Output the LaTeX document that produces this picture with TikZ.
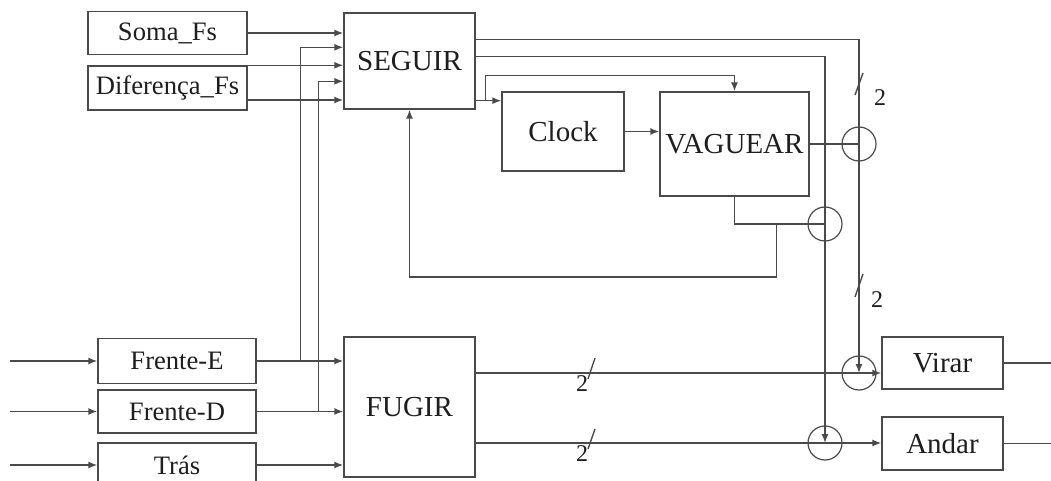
\documentclass[tikz,border=0pt]{standalone}
\usepackage{fontspec}
\setmainfont{Liberation Serif}
\usepackage{xcolor}
\definecolor{wire}{HTML}{4A4A4A}
\definecolor{ink}{HTML}{1E1E1E}
\usepackage{tikz}
\usetikzlibrary{arrows.meta,calc}

\begin{document}
\begin{tikzpicture}[x=0.5pt, y=-0.5pt,
    font=\fontsize{14.5}{17}\selectfont,
    block/.style={draw=wire, line width=0.7pt, text=ink, inner sep=0pt},
    sensor/.style={block, font=\fontsize{13.3}{16}\selectfont},
    junction/.style={circle, draw=wire, line width=0.6pt, minimum size=17pt, inner sep=0pt},
    wireline/.style={draw=wire, line width=0.7pt},
    sig/.style={wireline, -{Latex[length=4.5pt, width=3.5pt]}},
    buswidth/.style={font=\fontsize{12}{14}\selectfont, text=ink, inner sep=0pt}]
  \useasboundingbox (0,0) rectangle (1051,481);
  % blocos
  \node[sensor, minimum width=79.5pt, minimum height=21.5pt] (soma) at (167.5,33) {Soma\_Fs};
  \node[sensor, minimum width=79.5pt, minimum height=22pt] (dif) at (167.5,88) {Diferença\_Fs};
  \node[block, minimum width=65.5pt, minimum height=48pt] (seguir) at (409.5,61) {SEGUIR};
  \node[block, minimum width=61pt, minimum height=39.5pt] (clock) at (563,131.5) {Clock};
  \node[block, minimum width=74.5pt, minimum height=52pt] (vaguear) at (734.5,144) {VAGUEAR};
  \node[sensor, minimum width=79pt, minimum height=22.5pt] (frenteE) at (177,361) {Frente-E};
  \node[sensor, minimum width=79pt, minimum height=21.5pt] (frenteD) at (177,411.5) {Frente-D};
  \node[sensor, minimum width=79pt, minimum height=22pt] (tras) at (177,465) {Trás};
  \node[block, minimum width=65.5pt, minimum height=70pt] (fugir) at (409.5,407) {FUGIR};
  \node[block, minimum width=60.5pt, minimum height=26pt] (virar) at (942.5,363) {Virar};
  \node[block, minimum width=60.5pt, minimum height=26.5pt] (andar) at (942.5,443.5) {Andar};
  % juncoes
  \node[junction] (jA) at (859,144) {};
  \node[junction] (jB) at (825,224) {};
  \node[junction] (jC) at (859,373) {};
  \node[junction] (jD) at (825,443) {};
  % pontos auxiliares
  \coordinate (inE) at (10,361);
  \coordinate (inD) at (10,411.5);
  \coordinate (inT) at (10,465);
  \coordinate (difA) at (dif.north east);
  \coordinate (difB) at ($(dif.east)+(0,12)$);
  \coordinate (sgB) at ($(seguir.north west)+(0,35)$);
  \coordinate (sgD) at ($(seguir.north west)+(0,69)$);
  \coordinate (tapE) at ($(frenteE.east)+(44,0)$);
  \coordinate (tapD) at ($(frenteD.east)+(62,0)$);
  \coordinate (soA) at ($(seguir.north east)+(0,27)$);
  \coordinate (soB) at ($(seguir.north east)+(0,44)$);
  \coordinate (soC) at ($(seguir.south east)+(0,-9)$);
  \coordinate (tapC) at ($(soC)+(10,0)$);
  \coordinate (fb) at ($(vaguear.south |- jB)+(42,0)$);
  \coordinate (foA) at ($(fugir.east)+(0,-34)$);
  \coordinate (foB) at ($(fugir.east)+(0,36)$);
  % entradas
  \draw[sig] (inE) -- (frenteE);
  \draw[sig] (inD) -- (frenteD);
  \draw[sig] (inT) -- (tras);
  \draw[sig] (soma) -- (soma -| seguir.west);
  \draw[sig] (difA) -- (difA -| seguir.west);
  \draw[sig] (difB) -- (difB -| seguir.west);
  \draw[sig] (frenteE) -- (frenteE -| fugir.west);
  \draw[sig] (frenteD) -- (frenteD -| fugir.west);
  \draw[sig] (tras) -- (tras -| fugir.west);
  \draw[sig] (tapE) |- (sgB);
  \draw[sig] (tapD) |- (sgD);
  % seguir / vaguear
  \draw[sig] (soC) -- (soC -| clock.west);
  \draw[sig] (tapC) -- ++(0,-25) -| (vaguear.north);
  \draw[sig] (clock) -- (clock -| vaguear.west);
  \draw[sig] (soA) -| (jC.center);
  \draw[sig] (soB) -| (jD.center);
  \draw[wireline] (vaguear.east) -- (jA.center);
  \draw[wireline] (vaguear.south) |- (jB.center);
  \draw[sig] (fb) -- ++(0,53) -| (seguir.south);
  % saidas
  \draw[sig] (foA) -- (foA -| virar.west);
  \draw[sig] (foB) -- (foB -| andar.west);
  \draw[wireline] (virar.east) -- ++(50,0);
  \draw[wireline] (andar.east) -- ++(50,0);
  % largura dos barramentos
  \draw[wireline] (855,95) -- (863,73);
  \node[buswidth] (bA) at (880,98) {2};
  \draw[wireline] (855,297) -- (863,274);
  \node[buswidth] (bB) at (877,300) {2};
  \draw[wireline] (588,379) -- (595,358);
  \node[buswidth] (bC) at (582,384) {2};
  \draw[wireline] (588,449) -- (595,429);
  \node[buswidth] (bD) at (582,454) {2};
\end{tikzpicture}
\end{document}
